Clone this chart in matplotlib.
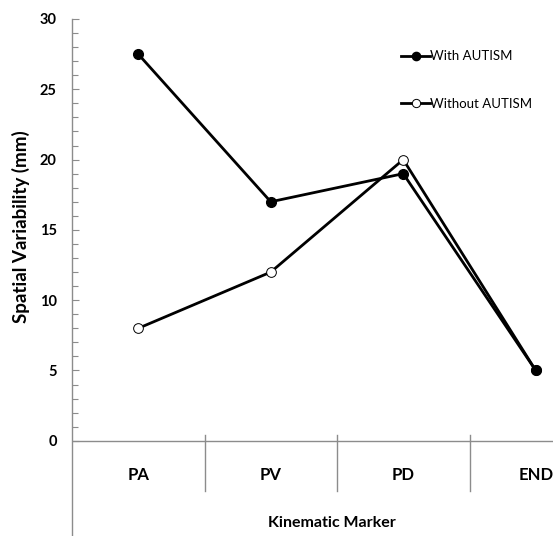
import numpy as np
import matplotlib.pyplot as plt
from matplotlib.ticker import FixedLocator

plt.rcParams['font.family'] = ['Lato', 'DejaVu Sans']

markers = ["PA", "PV", "PD", "END"]
with_autism = [27.5, 17, 19, 5]
without_autism = [8, 12, 20, 5]
yticks = [0, 5, 10, 15, 20, 25, 30]

grey = "#8c8c8c"

fig = plt.figure(figsize=(5.53, 5.36), dpi=100)
# axes runs past the right edge of the picture, like the original crop
ax = fig.add_axes([72/553, 1/536, 530/553, 516/536])

x = np.arange(len(markers))
ax.plot(x, with_autism, color="black", lw=2, marker="o", ms=7,
        mfc="black", mec="black", label="With AUTISM", zorder=4)
ax.plot(x, without_autism, color="black", lw=2, marker="o", ms=7,
        mfc="white", mec="black", mew=0.7, label="Without AUTISM", zorder=3)

ax.set_xlim(-0.5, 3.5)
ax.set_ylim(-6.7, 30)

for s in ["top", "right", "bottom"]:
    ax.spines[s].set_visible(False)
ax.spines["left"].set_color(grey)
ax.spines["left"].set_linewidth(1)
ax.axhline(0, color=grey, lw=1)

# category dividers under the zero line
for d in [0.5, 1.5, 2.5]:
    ax.plot([d, d], [0.4, -3.6], color=grey, lw=1)
for i, m in enumerate(markers):
    ax.text(i, -2.4, m, ha="center", va="center", fontsize=12, fontweight="bold")

ax.set_xticks([])
ax.set_yticks(yticks)
ax.yaxis.set_minor_locator(FixedLocator([v for v in range(0, 31) if v % 5]))
ax.tick_params(axis="y", which="both", direction="in", color=grey, width=0.8,
               labelsize=10.5, pad=11)
ax.tick_params(axis="y", which="major", length=5)
ax.tick_params(axis="y", which="minor", length=4)
for lab in ax.get_yticklabels():
    lab.set_fontweight("bold")

fig.text(21/553, 1 - 227/536, "Spatial Variability (mm)", rotation=90,
         ha="center", va="center", fontsize=13.5, fontweight="bold")
fig.text(332/553, 1 - 523/536, "Kinematic Marker", ha="center", va="center",
         fontsize=11.5, fontweight="bold")

ax.legend(loc="upper left", bbox_to_anchor=(396/553, 1 - 45/536),
          bbox_transform=fig.transFigure, frameon=False, handlelength=2.2,
          handletextpad=0.0, labelspacing=2.7, fontsize=9.5, borderaxespad=0,
          markerscale=0.85)

fig.savefig("out.png", dpi=100)
